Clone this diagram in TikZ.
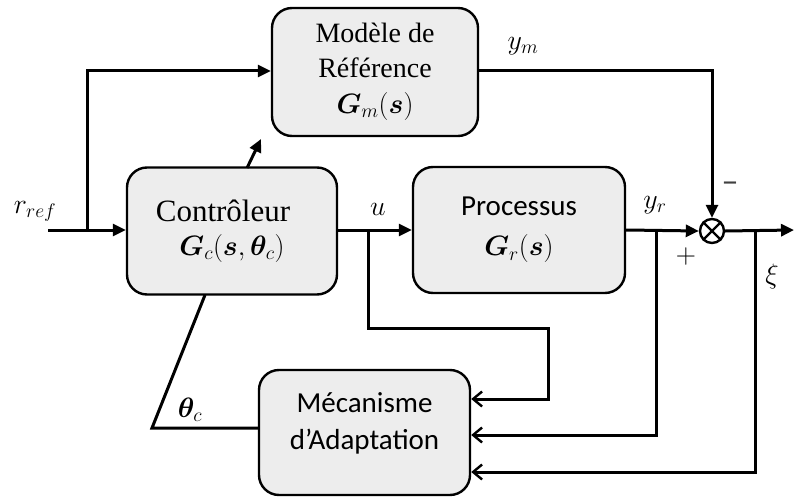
\RequirePackage{fix-cm}
\documentclass[tikz,border=0pt]{standalone}
\usepackage{amsmath}
\usepackage{bm}
\usepackage{fontspec}
\setmainfont{Liberation Serif}
\newfontfamily\calfont{Carlito}
\usetikzlibrary{arrows.meta}
\begin{document}
\begin{tikzpicture}[x=1pt,y=-1pt,
  block/.style={draw=black,line width=2.4pt,fill=black!7,rounded corners=20pt,
    align=center,inner sep=0pt},
  wire/.style={line width=3pt},
  tip/.style={-{Triangle[length=13pt,width=12pt]}},
  barb/.style={-{Straight Barb[length=9pt,width=15pt,line width=2.4pt]}},
  lbl/.style={inner sep=0pt,font=\fontsize{28}{32}\selectfont}
]
\useasboundingbox (0,0) rectangle (794,497);

% blocks
\node[block,minimum width=206pt,minimum height=128pt,
  font=\fontsize{28}{35}\selectfont] (model) at (375,72)
  {Modèle de\\Référence\\[1pt]\fontsize{28}{32}\selectfont$\bm{G}_m(\bm{s})$};
\node[block,minimum width=210pt,minimum height=127pt,
  font=\fontsize{31}{36}\selectfont] (ctrl) at (232,231)
  {Contrôleur\hspace*{18pt}\\[-2pt]\fontsize{28}{32}\selectfont$\bm{G}_c(\bm{s},\bm{\theta}_c)$};
\node[block,minimum width=212pt,minimum height=126pt,
  font=\calfont\fontsize{29}{40}\selectfont] (proc) at (519,230)
  {Processus\\\fontsize{28}{32}\selectfont$\bm{G}_r(\bm{s})$};
\node[block,minimum width=211pt,minimum height=125pt,
  font=\calfont\fontsize{29}{37}\selectfont] (adapt) at (364.5,432.5)
  {Mécanisme\\d’Adaptation\\[-15pt]};

% summing junction
\node[draw=black,line width=2.4pt,circle,minimum size=24pt,inner sep=0pt] (sum) at (712,231) {};
\draw[line width=2.4pt] (sum.north west) -- (sum.south east);
\draw[line width=2.4pt] (sum.north east) -- (sum.south west);

% routing points
\coordinate (rin) at (48,230);
\coordinate (rsplit) at (87,230);
\coordinate (rup) at (87,71);
\coordinate (ymcorner) at (712,71);
\coordinate (usplit) at (368,230);
\coordinate (ud1) at (368,328);
\coordinate (ud2) at (548,328);
\coordinate (ud3) at (548,399);
\coordinate (yrsplit) at (656,230);
\coordinate (yrd) at (656,435);
\coordinate (xisplit) at (755,230);
\coordinate (xid) at (755,472);
\coordinate (out) at (794,230);
\coordinate (thfoot) at (152,428);
\coordinate (thtop) at (205,295);
\coordinate (tunefrom) at (247,168);
\coordinate (tuneto) at (261,139);

% reference input
\draw[wire,tip] (rin) -- (ctrl.west |- rin);
\draw[wire,tip] (rsplit) -- (rup) -- (model.west |- rup);
% model output to the comparator
\draw[wire,tip] (model.east |- rup) -- (ymcorner) -- (sum.north);
% control signal
\draw[wire,tip] (ctrl.east |- usplit) -- (proc.west |- usplit);
\draw[wire,barb] (usplit) -- (ud1) -- (ud2) -- (ud3) -- (adapt.east |- ud3);
% plant output
\draw[wire,tip] (proc.east |- yrsplit) -- (sum.west);
\draw[wire,barb] (yrsplit) -- (yrd) -- (adapt.east |- yrd);
% error signal
\draw[wire,tip] (sum.east) -- (out);
\draw[wire,barb] (xisplit) -- (xid) -- (adapt.east |- xid);
% adapted parameters back to the controller
\draw[wire] (adapt.west |- thfoot) -- (thfoot) -- (thtop);
\draw[wire,tip] (tunefrom) -- (tuneto);

% signal labels
\node[lbl] (lr) at (35,211) {$r_{ref}$};
\node[lbl] (lym) at (523,46) {$y_m$};
\node[lbl] (lu) at (378,209) {$u$};
\node[lbl] (lyr) at (655,205) {$y_r$};
\node[lbl] (lxi) at (772,276) {$\xi$};
\node[lbl] (lth) at (190,410) {$\bm{\theta}_c$};
\node[lbl,font=\calfont\fontsize{34}{36}\selectfont,text=black!75] (lminus) at (730,187) {–};
\node[lbl] (lplus) at (686,256) {$+$};
\end{tikzpicture}
\end{document}
